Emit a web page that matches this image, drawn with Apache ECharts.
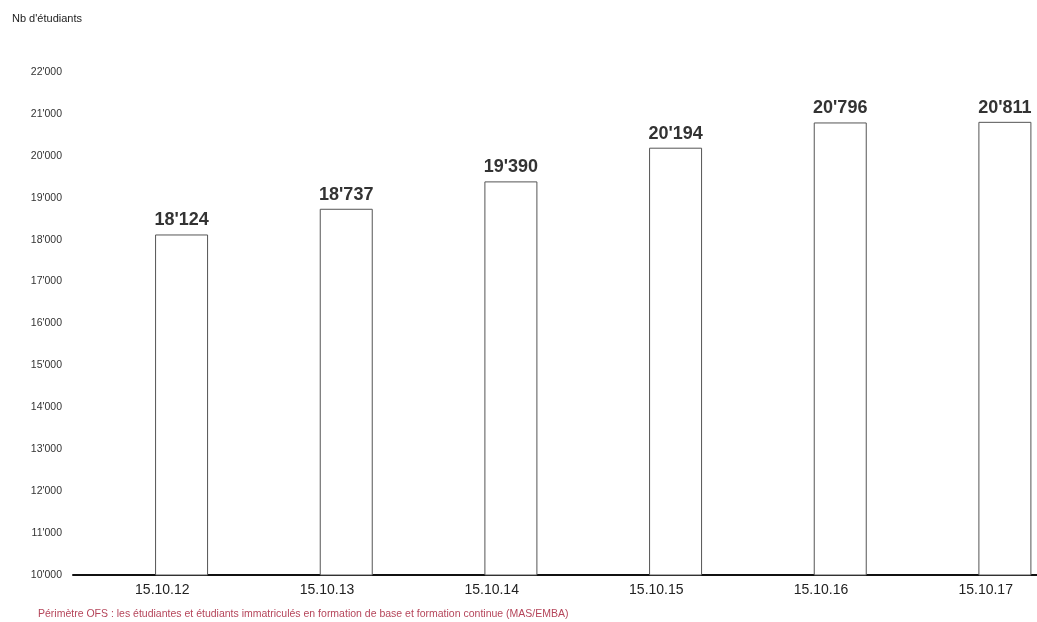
<!DOCTYPE html>
<html>
<head>
<meta charset="utf-8">
<script src="https://cdn.jsdelivr.net/npm/echarts@6/dist/echarts.min.js"></script>
<style>html,body{margin:0;padding:0;background:#fff}#c{width:1037px;height:622px}</style>
</head>
<body>
<div id="c"></div>
<script>
var categories = ['15.10.12', '15.10.13', '15.10.14', '15.10.15', '15.10.16', '15.10.17'];
var students = [18124, 18737, 19390, 20194, 20796, 20811];
var yTitle = "Nb d'étudiants";
var footnote = "Périmètre OFS : les étudiantes et étudiants immatriculés en formation de base et formation continue (MAS/EMBA)";

function fmt(v) {
  var s = String(Math.round(v));
  return s.length > 3 ? s.slice(0, s.length - 3) + "'" + s.slice(-3) : s;
}

var chart = echarts.init(document.getElementById('c'), null, {renderer: 'canvas'});
chart.setOption({
  backgroundColor: '#fff',
  animation: false,
  textStyle: {fontFamily: 'Liberation Sans, Arial, sans-serif'},
  title: [
    {text: yTitle, left: 7, top: 8, textStyle: {fontSize: 11, fontWeight: 'normal', color: '#222'}},
    {text: footnote, left: 33, top: 604, textStyle: {fontSize: 10.5, fontWeight: 'normal', color: '#b5455a'}}
  ],
  grid: {left: 73, width: 988, top: 72, bottom: 47, containLabel: false, outerBoundsMode: 'none'},
  xAxis: {
    type: 'category',
    data: categories,
    axisLine: {lineStyle: {color: '#111', width: 2}},
    axisTick: {show: false},
    axisLabel: {fontSize: 14, color: '#222', margin: 8, padding: [0, 0, 0, 14]}
  },
  yAxis: {
    type: 'value',
    min: 10000, max: 22000, interval: 1000,
    splitLine: {show: false},
    axisLine: {show: false},
    axisTick: {show: false},
    axisLabel: {fontSize: 10.5, color: '#333', margin: 11, formatter: fmt}
  },
  series: [
    {type: 'bar', data: categories.map(function () { return '-'; }), barWidth: 53, barGap: '-1%', silent: true},
    {
      type: 'bar',
      data: students,
      barWidth: 53,
      barGap: '-1%',
      itemStyle: {color: '#fff', borderColor: '#555', borderWidth: 1},
      label: {
        show: true, position: 'top', distance: 5,
        fontSize: 18, fontWeight: 'bold', color: '#333',
        formatter: function (p) { return fmt(p.value); }
      }
    }
  ]
});
</script>
</body>
</html>
